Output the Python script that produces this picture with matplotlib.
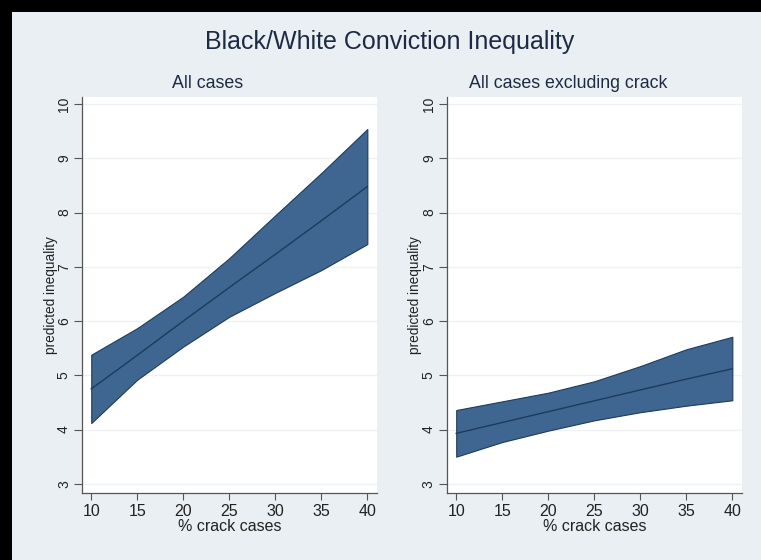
import numpy as np
import matplotlib.pyplot as plt
from matplotlib.patches import Rectangle

plt.rcParams['font.family'] = ['Liberation Sans', 'DejaVu Sans']

# % crack cases on the x axis
crack = [10, 15, 20, 25, 30, 35, 40]

# all cases: prediction and confidence band
all_fit = [4.75, 5.37, 6.00, 6.62, 7.23, 7.85, 8.48]
all_lo = [4.12, 4.92, 5.53, 6.08, 6.52, 6.94, 7.42]
all_hi = [5.38, 5.87, 6.45, 7.16, 7.95, 8.73, 9.54]

# all cases excluding crack
ex_fit = [3.93, 4.13, 4.33, 4.53, 4.73, 4.93, 5.12]
ex_lo = [3.50, 3.77, 3.98, 4.17, 4.32, 4.44, 4.54]
ex_hi = [4.36, 4.52, 4.68, 4.89, 5.17, 5.48, 5.71]

bg = '#e9eff2'
band = '#3e6690'
edge = '#1d3b5c'
txt = '#1e2a44'

fig = plt.figure(figsize=(7.61, 5.60), dpi=100, facecolor=bg)

# black frame along top and left
fig.patches.append(Rectangle((0, 1 - 12 / 560), 1, 12 / 560, transform=fig.transFigure,
                             facecolor='black', edgecolor='none', zorder=10))
fig.patches.append(Rectangle((0, 0), 12 / 761, 1, transform=fig.transFigure,
                             facecolor='black', edgecolor='none', zorder=10))

fig.text(0.512, 0.925, 'Black/White Conviction Inequality', ha='center', va='center',
         fontsize=18, color=txt)

panels = [
    (0.1078, 'All cases', 208, all_fit, all_lo, all_hi),
    (0.5874, 'All cases excluding crack', 568, ex_fit, ex_lo, ex_hi),
]

for left, sub, subx, fit, lo, hi in panels:
    ax = fig.add_axes([left, 0.1196, 0.387, 0.7071], facecolor='white')
    ax.fill_between(crack, lo, hi, facecolor=band, edgecolor=edge, linewidth=0.8, zorder=3)
    ax.plot(crack, fit, color=edge, linewidth=1.0, zorder=4)

    ax.set_xlim(9.0, 41.0)
    ax.set_ylim(2.83, 10.13)
    ax.set_xticks(crack)
    ax.set_yticks(range(3, 11))
    ax.tick_params(axis='y', labelrotation=90, length=6, width=0.8, color='#555555',
                   labelsize=10, labelcolor='#222222', pad=2)
    ax.tick_params(axis='x', length=5, width=0.8, color='#555555',
                   labelsize=11.5, labelcolor='#222222', pad=3)
    for lab in ax.get_yticklabels():
        lab.set_va('center')

    ax.grid(axis='y', color='#eef2f4', linewidth=1.0, zorder=0)
    ax.set_axisbelow(True)
    for s in ['top', 'right']:
        ax.spines[s].set_visible(False)
    for s in ['left', 'bottom']:
        ax.spines[s].set_color('#555555')
        ax.spines[s].set_linewidth(0.9)

    ax.set_xlabel('% crack cases', fontsize=11.5, color='#222222', labelpad=0)
    ax.set_ylabel('predicted inequality', fontsize=9.8, color='#222222', va='center')
    ax.yaxis.set_label_coords(-0.107, 0.5)

    fig.text(subx / 761, 1 - 83 / 560, sub, ha='center', va='center', fontsize=12.8, color=txt)

fig.savefig('out.png', dpi=100, facecolor=bg)
